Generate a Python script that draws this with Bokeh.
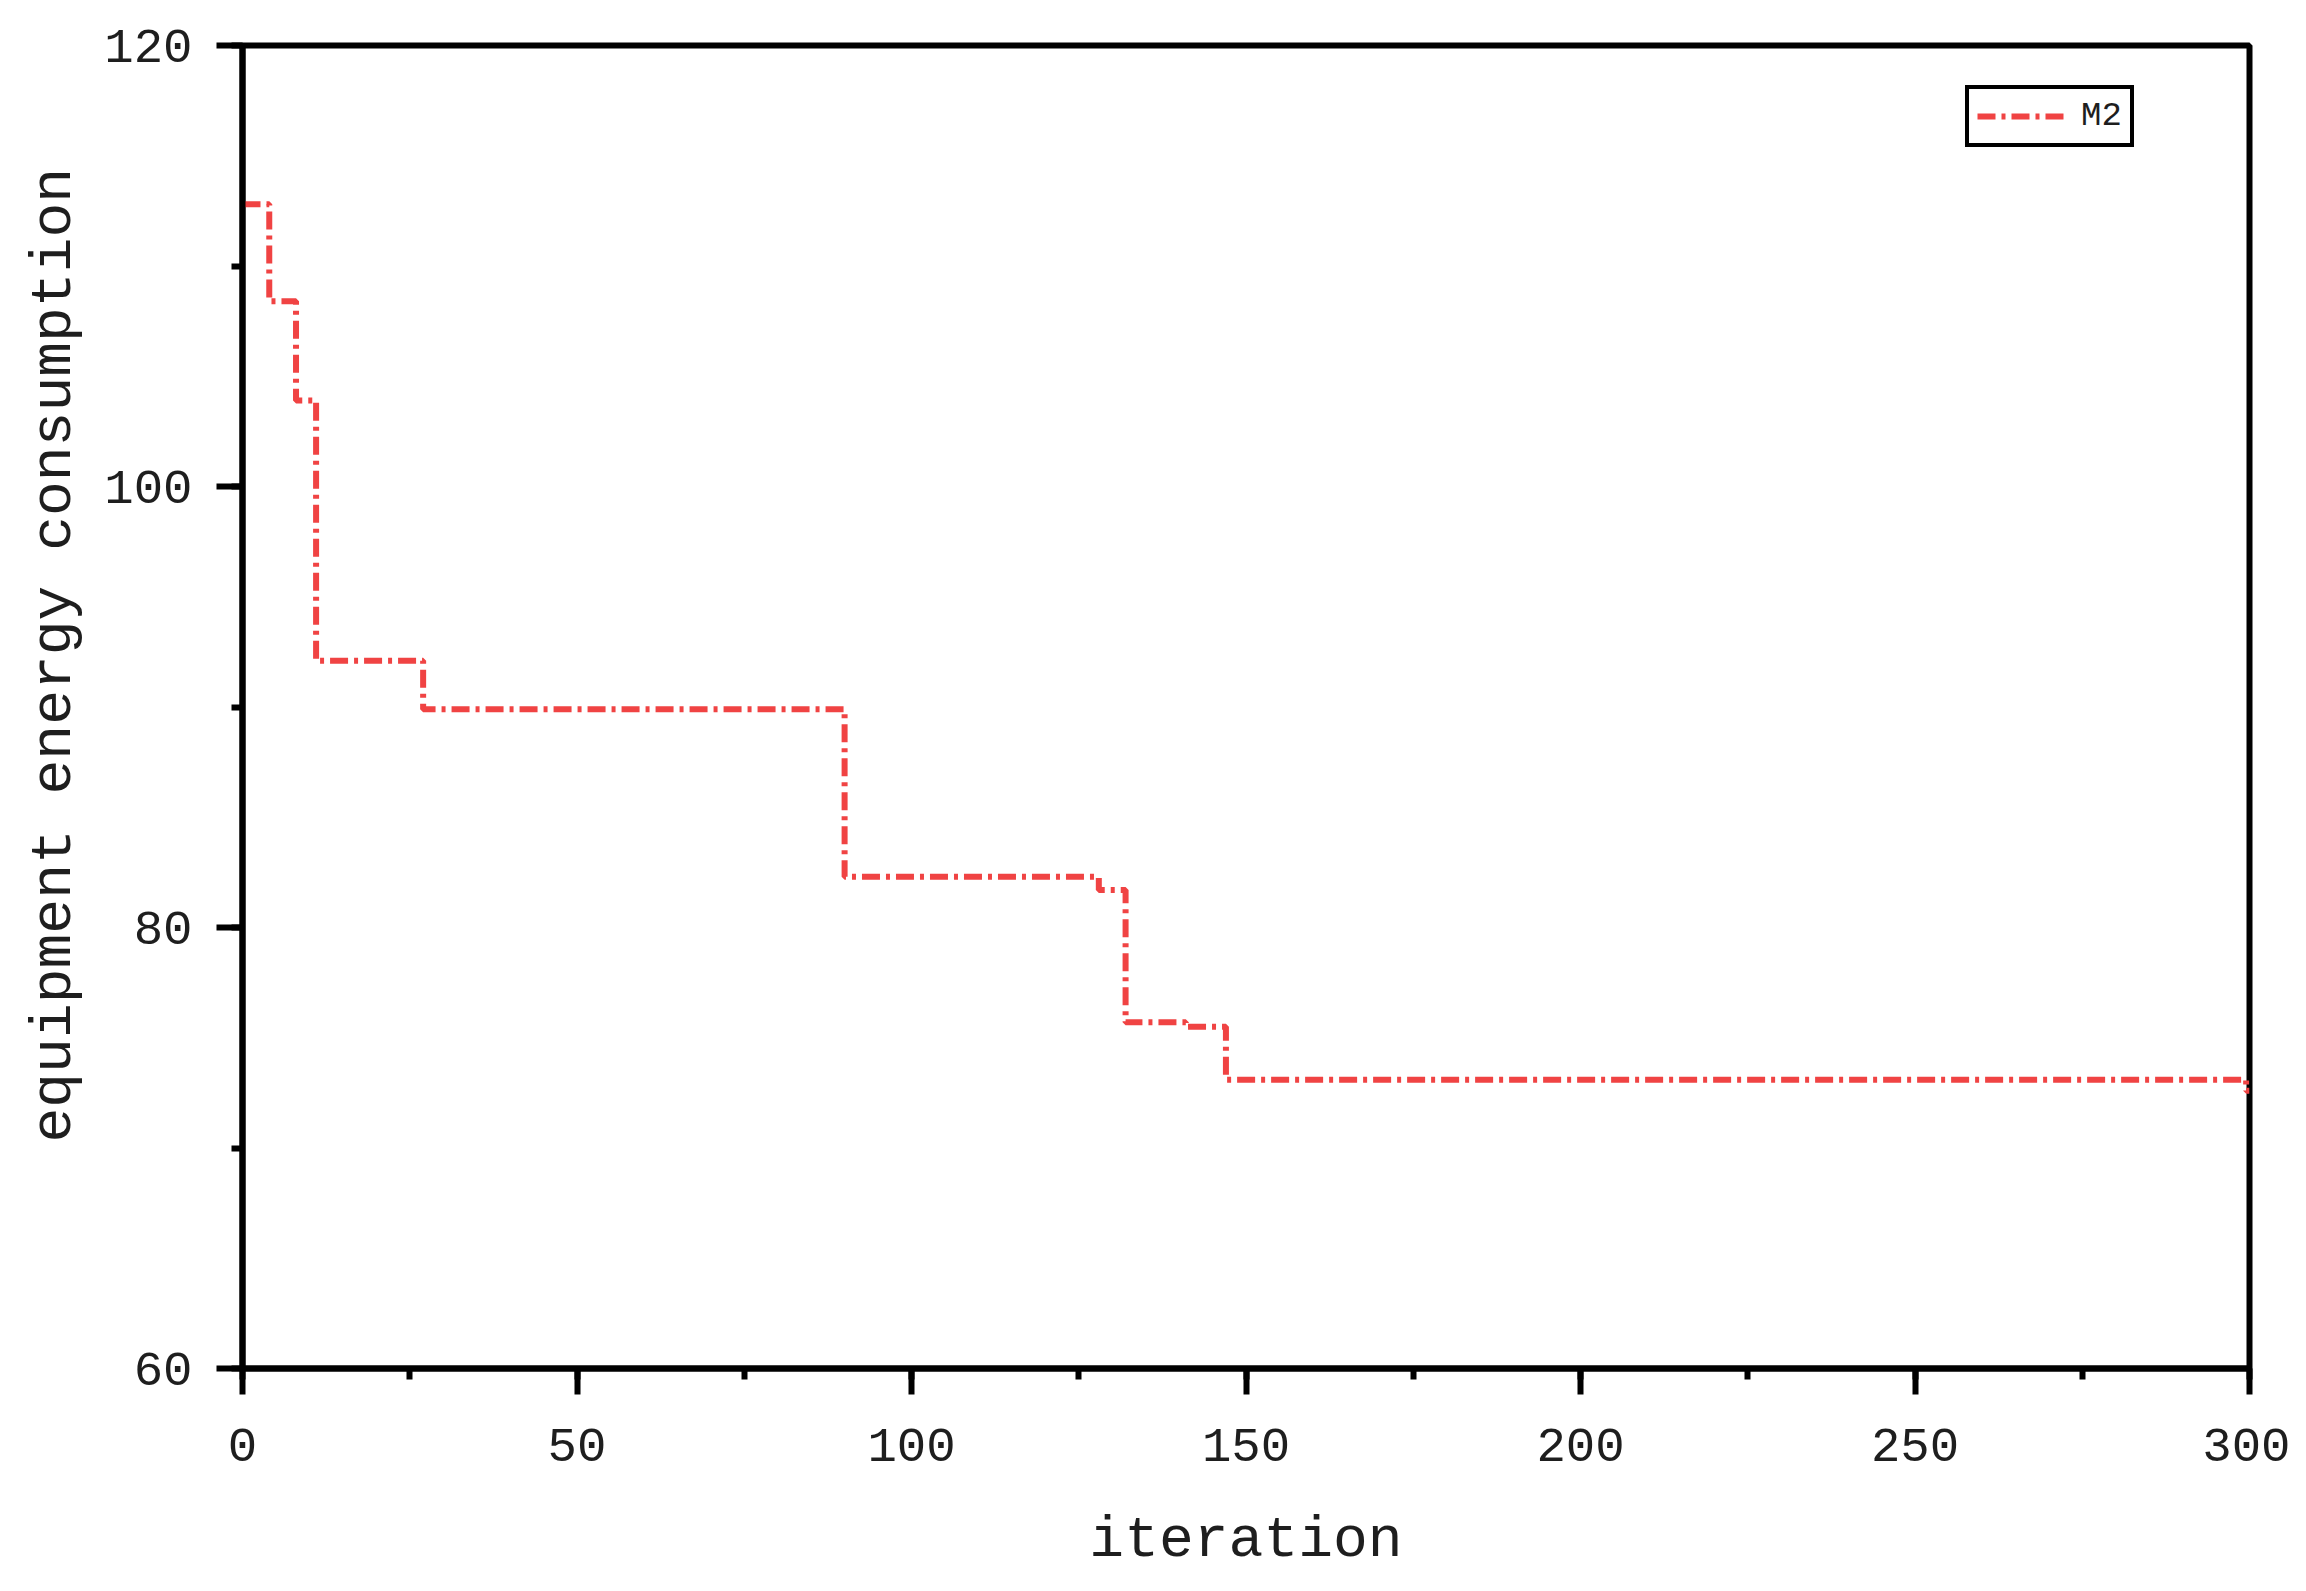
from bokeh.plotting import figure
from bokeh.models import Range1d, SingleIntervalTicker, Legend, LegendItem, Title
from bokeh.embed import file_html
from bokeh.resources import INLINE

# ---- data ----
series_name = "M2"
iterations = [0, 4, 8, 11, 27, 90, 128, 132, 141, 147, 299.5, 300]
consumption = [112.8, 108.4, 103.9, 92.1, 89.9, 82.3, 81.7, 75.7, 75.5, 73.1, 72.6, 72.6]
x_label = "iteration"
y_label = "equipment energy consumption"

FONT = "Liberation Mono"
RED = "#F04343"
TXT = "#1e1e1e"

p = figure(width=2290, height=1575, output_backend="svg", toolbar_location=None,
           x_range=Range1d(0, 300), y_range=Range1d(60, 120),
           min_border_left=242, min_border_right=41, min_border_top=45, min_border_bottom=200)

p.xgrid.visible = False
p.ygrid.visible = False
p.background_fill_color = "white"
p.border_fill_color = "white"
p.outline_line_color = "black"
p.outline_line_width = 6
p.outline_line_alpha = 1.0

line = p.step(iterations, consumption, mode="after", line_color=RED, line_width=6,
              line_dash="18 6 4 6")

p.xaxis.ticker = SingleIntervalTicker(interval=50, num_minor_ticks=2)
p.yaxis.ticker = SingleIntervalTicker(interval=20, num_minor_ticks=2)

for ax in (p.xaxis[0], p.yaxis[0]):
    ax.axis_line_width = 6
    ax.axis_line_color = "black"
    ax.major_tick_line_width = 6
    ax.minor_tick_line_width = 6
    ax.major_tick_line_color = "black"
    ax.minor_tick_line_color = "black"
    ax.major_tick_out = 26
    ax.major_tick_in = 0
    ax.minor_tick_out = 11
    ax.minor_tick_in = 0
    ax.major_label_text_font = FONT
    ax.major_label_text_font_size = "49px"
    ax.major_label_text_color = TXT
    ax.axis_label_text_font = FONT
    ax.axis_label_text_font_size = "58px"
    ax.axis_label_text_font_style = "normal"
    ax.axis_label_text_color = TXT

p.xaxis.axis_label = x_label
p.xaxis.major_label_standoff = 34
p.yaxis.major_label_standoff = 24
p.xaxis.axis_label_standoff = 44

# y-axis title, placed a little above the axis centre as in the reference
ytitle = Title(text=y_label, align="left", offset=226, text_font=FONT,
               text_font_size="58px", text_font_style="normal", text_color=TXT,
               standoff=30)
p.add_layout(ytitle, "left")

legend = Legend(items=[LegendItem(label=series_name, renderers=[line])],
                location=(1723, 1221))
legend.border_line_color = "black"
legend.border_line_width = 4
legend.border_line_alpha = 1.0
legend.background_fill_color = "white"
legend.background_fill_alpha = 1.0
legend.label_text_font = FONT
legend.label_text_font_size = "34px"
legend.label_text_color = TXT
legend.glyph_width = 92
legend.glyph_height = 28
legend.label_height = 28
legend.label_standoff = 12
legend.padding = 8
legend.spacing = 0
legend.margin = 0
p.add_layout(legend, "center")

open("out.html", "w").write(file_html(p, INLINE))
